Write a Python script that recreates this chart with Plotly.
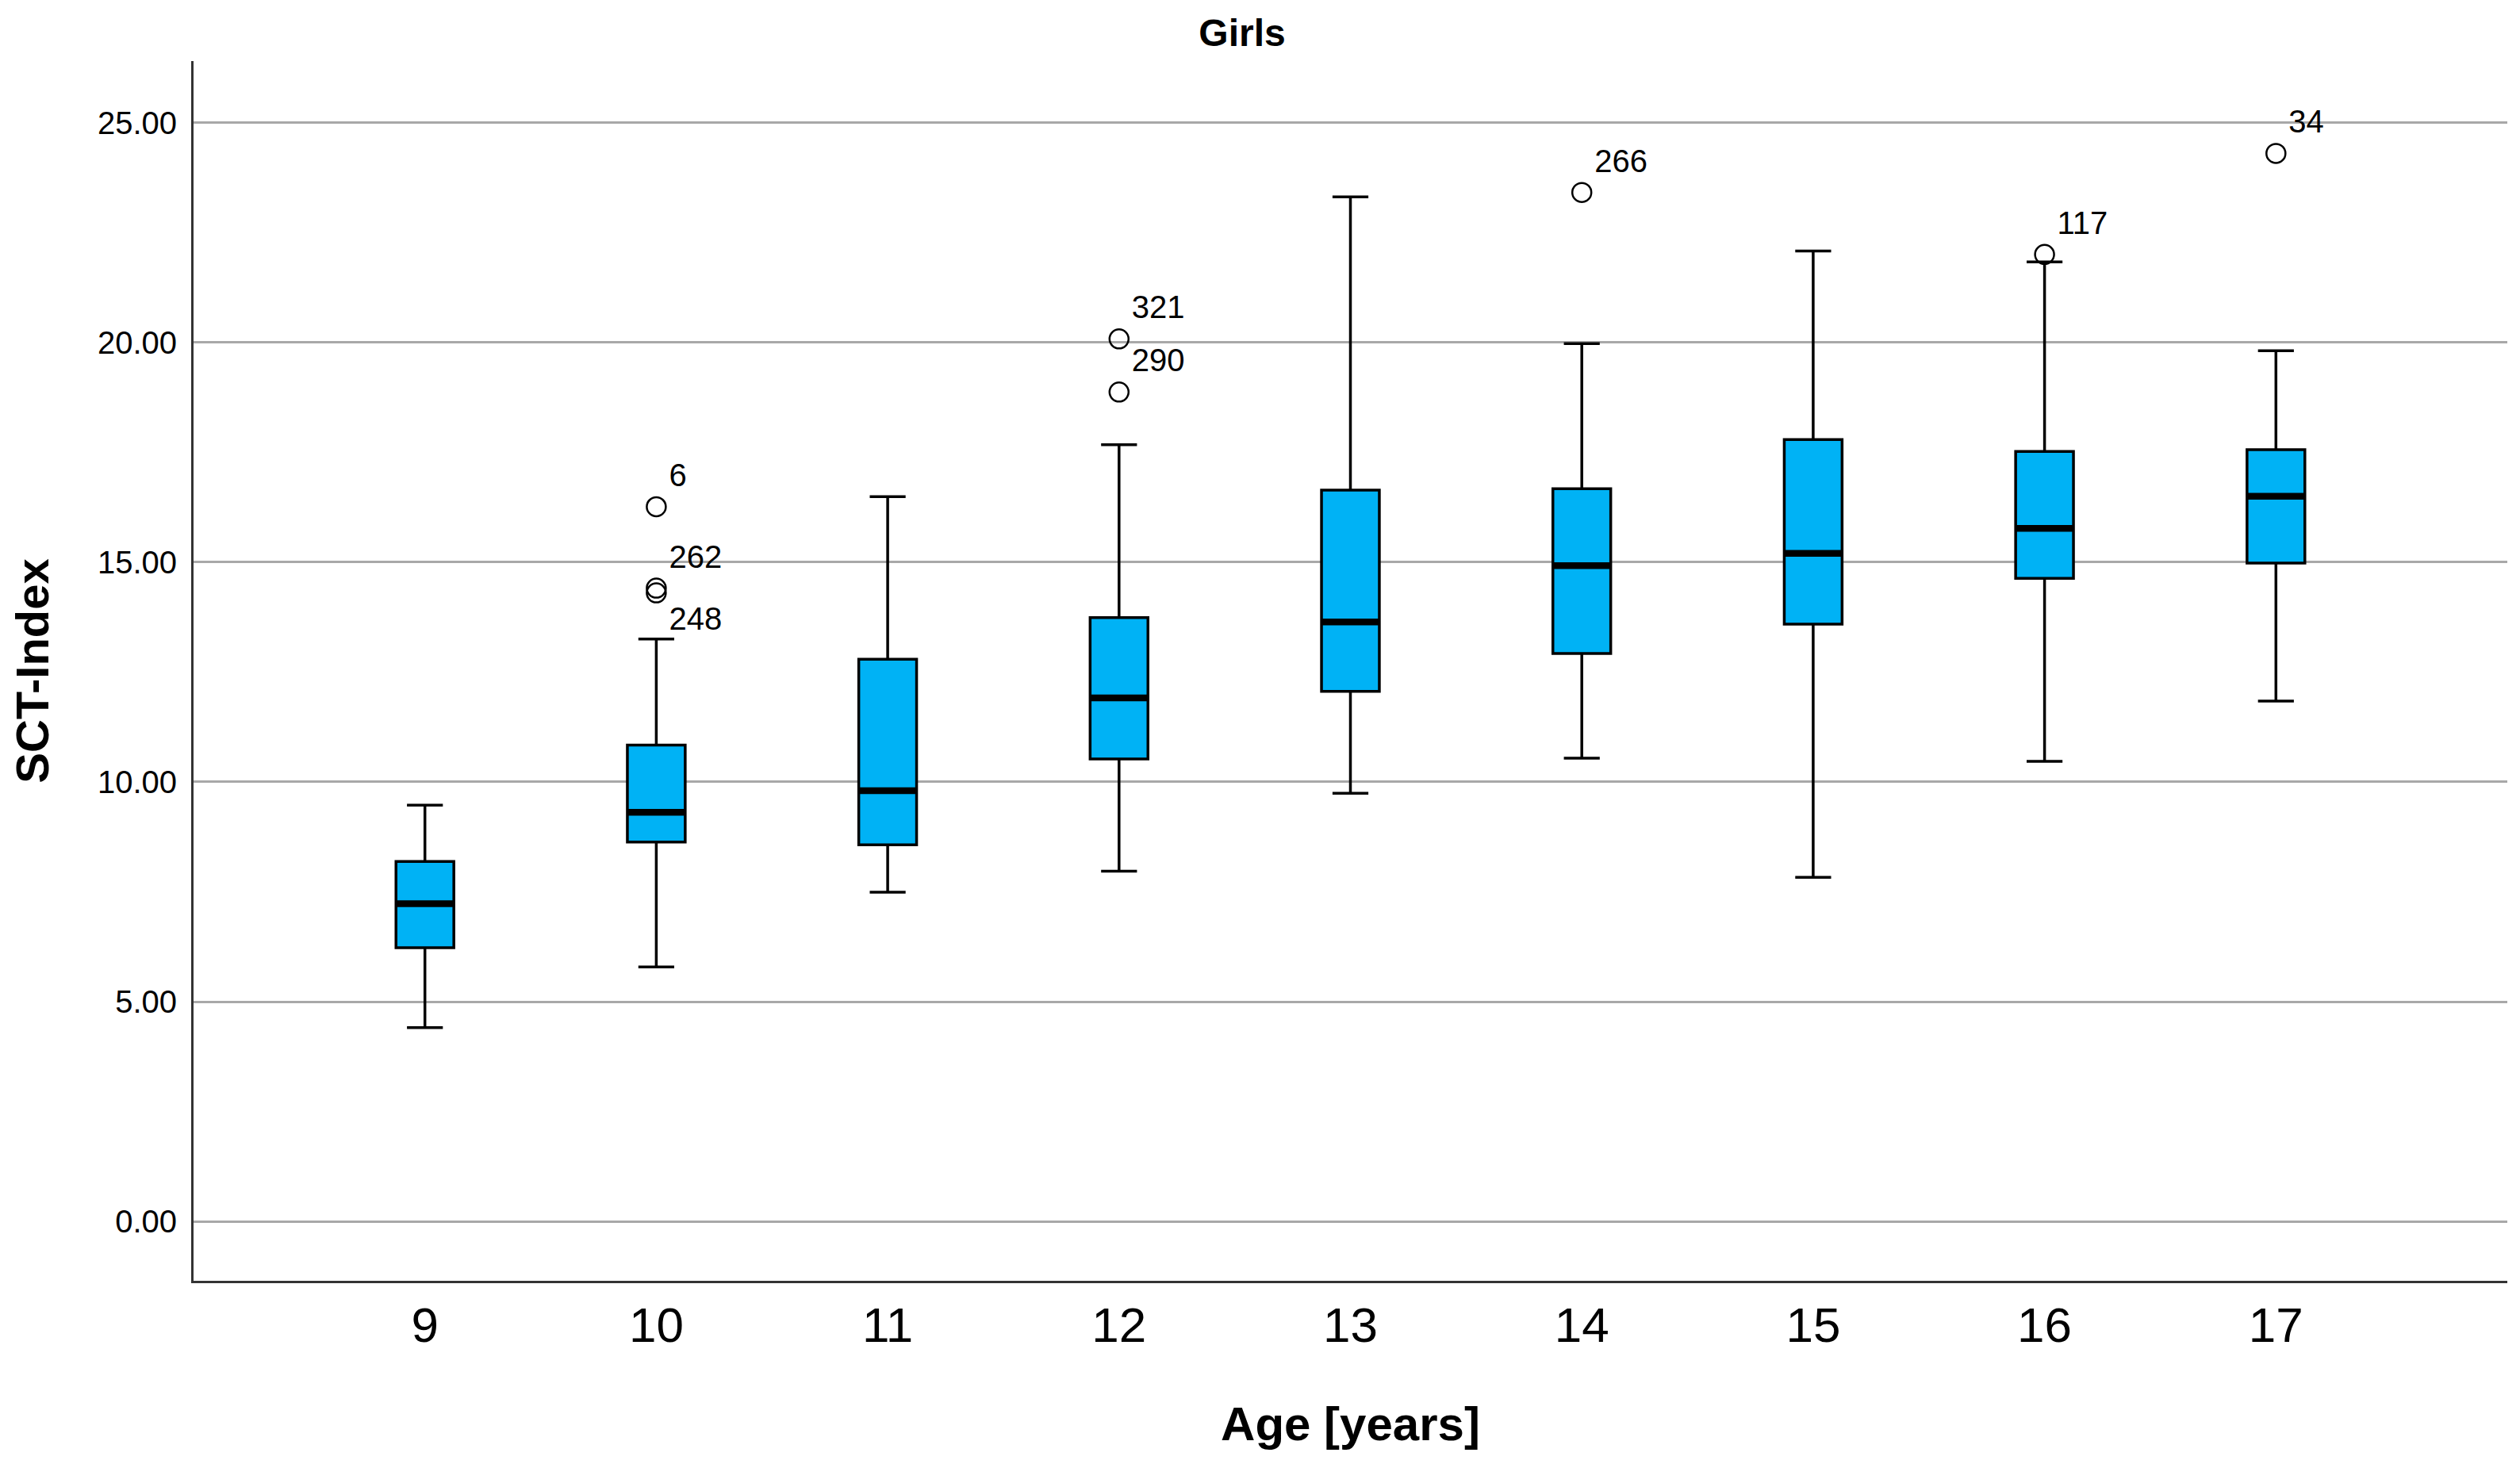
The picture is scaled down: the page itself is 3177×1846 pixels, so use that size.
import plotly.graph_objects as go

# SCT-Index by age, girls
ages = [9, 10, 11, 12, 13, 14, 15, 16, 17]
q1 = [6.23, 8.63, 8.57, 10.52, 12.06, 12.92, 13.59, 14.63, 14.98]
median = [7.23, 9.31, 9.80, 11.91, 13.64, 14.92, 15.20, 15.77, 16.50]
q3 = [8.19, 10.84, 12.79, 13.74, 16.64, 16.67, 17.79, 17.52, 17.56]
lower_whisker = [4.41, 5.79, 7.49, 7.97, 9.74, 10.54, 7.83, 10.47, 11.84]
upper_whisker = [9.47, 13.25, 16.49, 17.67, 23.31, 19.97, 22.08, 21.83, 19.81]

# outliers with case numbers
outlier_age = [10, 10, 10, 12, 12, 14, 16, 17]
outlier_val = [16.26, 14.41, 14.30, 20.08, 18.87, 23.41, 22.00, 24.30]
outlier_id = ["6", "262", "248", "321", "290", "266", "117", "34"]
outlier_textpos = ["top right", "top right", "bottom right", "top right",
                   "top right", "top right", "top right", "top right"]

y_ticks = [0, 5, 10, 15, 20, 25]
y_ticklabels = ["0.00", "5.00", "10.00", "15.00", "20.00", "25.00"]

BOX_W = 0.25
FILL = "#00B2F5"
FONT = "Liberation Sans, Arial, sans-serif"

fig = go.Figure()

fig.add_trace(go.Box(
    x=ages, q1=q1, median=median, q3=q3,
    lowerfence=lower_whisker, upperfence=upper_whisker,
    width=BOX_W, whiskerwidth=0.62,
    fillcolor=FILL, line=dict(color="black", width=3.5),
    boxpoints=False, showlegend=False, hoverinfo="skip"))

# thicker median bars, like SPSS draws them
for a, m in zip(ages, median):
    fig.add_trace(go.Scatter(
        x=[a - BOX_W / 2, a + BOX_W / 2], y=[m, m], mode="lines",
        line=dict(color="black", width=8.5), showlegend=False, hoverinfo="skip"))

fig.add_trace(go.Scatter(
    x=outlier_age, y=outlier_val, mode="markers+text",
    marker=dict(symbol="circle-open", size=24, color="black", line=dict(width=2.5)),
    text=outlier_id, textposition=outlier_textpos,
    textfont=dict(family=FONT, size=40, color="black"),
    showlegend=False, hoverinfo="skip"))

fig.update_layout(
    width=3177, height=1846,
    paper_bgcolor="white", plot_bgcolor="white",
    margin=dict(l=236, r=24, t=69, b=239),
    font=dict(family=FONT, color="black"),
    title=dict(text="<b>Girls</b>", x=0.4904, xref="container", xanchor="center",
               y=0.982, yanchor="middle",
               font=dict(size=48, family=FONT, color="black")),
)

fig.update_xaxes(
    range=[8, 18], tickvals=ages, ticktext=[str(a) for a in ages],
    tickfont=dict(size=62, family=FONT, color="black"),
    showgrid=False, zeroline=False, ticks="", ticklabelstandoff=0,
    showline=True, linecolor="#333333", linewidth=3,
    title=dict(text="<b>Age [years]</b>", font=dict(size=60, family=FONT, color="black"),
               standoff=70))

fig.update_yaxes(
    range=[-1.35, 26.4], tickvals=y_ticks, ticktext=y_ticklabels,
    tickfont=dict(size=40, family=FONT, color="black"),
    showgrid=True, gridcolor="#a8a8a8", gridwidth=3, zeroline=False, ticks="",
    ticklabelstandoff=10,
    showline=True, linecolor="#333333", linewidth=3,
    title=dict(text="<b>SCT-Index</b>", font=dict(size=58, family=FONT, color="black"),
               standoff=63))

fig.write_html("out.html")
